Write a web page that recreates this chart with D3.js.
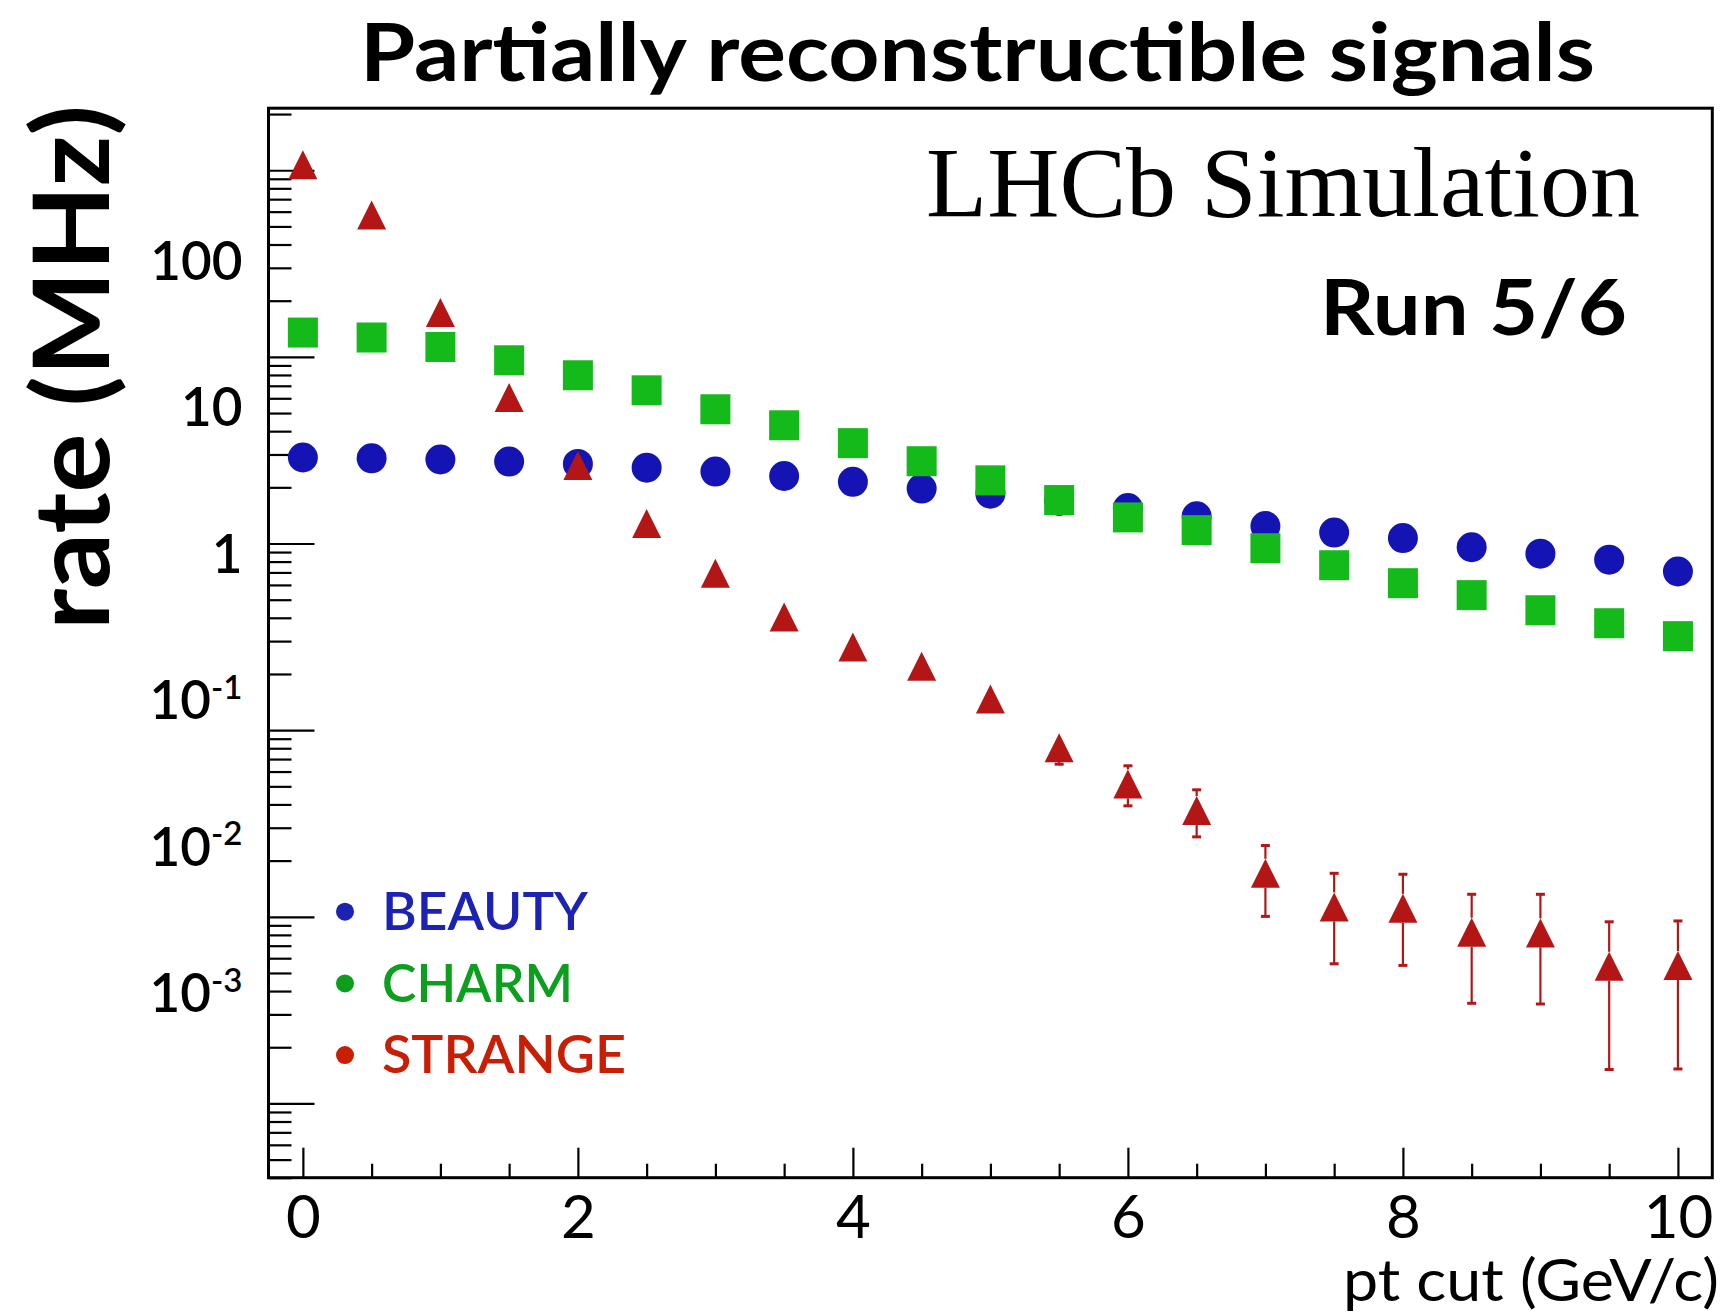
<!DOCTYPE html>
<html>
<head>
<meta charset="utf-8">
<script src="https://cdn.jsdelivr.net/npm/d3@7"></script>
<style>
  html, body { margin: 0; padding: 0; background: #ffffff; }
  svg { display: block; }
</style>
</head>
<body>
<svg id="chart" width="1732" height="1312"></svg>
<script>
// ---- data -------------------------------------------------------------
// pt cut in GeV/c
const ptCut = [0, 0.5, 1, 1.5, 2, 2.5, 3, 3.5, 4, 4.5, 5, 5.5, 6, 6.5, 7, 7.5, 8, 8.5, 9, 9.5, 10];

// rates in MHz
const beautyRate = [2.89, 2.86, 2.82, 2.75, 2.67, 2.55, 2.43, 2.30, 2.14, 1.97, 1.85,
                    1.69, 1.55, 1.40, 1.24, 1.145, 1.07, 0.955, 0.882, 0.819, 0.708];
const charmRate  = [13.5, 12.7, 11.3, 9.59, 7.97, 6.62, 5.24, 4.30, 3.45, 2.76, 2.18,
                    1.71, 1.38, 1.18, 0.944, 0.765, 0.613, 0.529, 0.439, 0.374, 0.319];
const strangeRate = [107, 57.5, 17.3, 6.06, 2.62, 1.28, 0.693, 0.404, 0.279, 0.220, 0.147,
                     0.0806, 0.0515, 0.0371, 0.0171, 0.0113, 0.0111, 0.00826, 0.0082, 0.00543, 0.00548];
// error band on the strange rate (null where the bar hides inside the marker)
const strangeLow  = [null, null, null, null, null, null, null, null, null, null, null,
                     0.0657, 0.0393, 0.0268, 0.01005, 0.0056, 0.00549, 0.00344, 0.00341, 0.00152, 0.00153];
const strangeHigh = [null, null, null, null, null, null, null, null, null, null, null,
                     0.0955, 0.0644, 0.0479, 0.0241, 0.0171, 0.0169, 0.0132, 0.0132, 0.0094, 0.0095];

const legendNames = ["BEAUTY", "CHARM", "STRANGE"];
const rateTickValues = [100, 10, 1, 0.1, 0.01, 0.001];
const ptTickLabels = ["0", "2", "4", "6", "8", "10"];

// ---- layout -----------------------------------------------------------
const frame = { left: 268.5, right: 1712.3, top: 108.2, bottom: 1177.7 };
const markerColor = { beauty: "#1414b4", charm: "#14b91a", strange: "#b41616" };
const legendColor = ["#1c22b2", "#0c9f1e", "#c81e04"];
const sans = "Lato, 'Open Sans', 'DejaVu Sans', sans-serif";

const svg = d3.select("#chart");

const x = d3.scaleLinear().domain([-0.25, 10.25]).range([frame.left, frame.right]);
const y = d3.scaleLog().domain([4e-4, 215]).range([frame.bottom, frame.top]);
// the decade labels sit on their own, more tightly spaced, log scale
const yLabel = d3.scaleLog().domain([1e-3, 100]).range([994.6, 262.5]);

// ---- axes -------------------------------------------------------------
const xTicks = x.ticks(21);
const xMajor = xTicks.filter(t => t % 2 === 0);
const xMinor = xTicks.filter(t => t % 2 !== 0);

const gx = svg.append("g").attr("transform", `translate(0,${frame.bottom})`);
gx.append("g")
  .call(d3.axisBottom(x).tickValues(xMinor).tickSizeInner(-14).tickSizeOuter(0).tickFormat(""))
  .call(g => g.select(".domain").remove());
gx.append("g")
  .call(d3.axisBottom(x).tickValues(xMajor).tickSizeInner(-30).tickSizeOuter(0).tickPadding(18)
        .tickFormat((d, i) => ptTickLabels[i]))
  .call(g => g.select(".domain").remove())
  .call(g => g.selectAll("text").attr("font-size", 60).attr("font-family", sans)
        .attr("font-weight", 400).attr("fill", "#000"));
gx.selectAll(".tick line").attr("stroke", "#000").attr("stroke-width", 2.2);

const yTicks = y.ticks();
const isDecade = v => Math.abs(Math.log10(v) - Math.round(Math.log10(v))) < 1e-9;
const yMajor = yTicks.filter(isDecade);
const yMinor = yTicks.filter(v => !isDecade(v));

const gy = svg.append("g").attr("transform", `translate(${frame.left},0)`);
gy.append("g")
  .call(d3.axisLeft(y).tickValues(yMinor).tickSizeInner(-23).tickSizeOuter(0).tickFormat(""))
  .call(g => g.select(".domain").remove());
gy.append("g")
  .call(d3.axisLeft(y).tickValues(yMajor).tickSizeInner(-46).tickSizeOuter(0).tickFormat(""))
  .call(g => g.select(".domain").remove());
gy.selectAll(".tick line").attr("stroke", "#000").attr("stroke-width", 2.2);

// decade labels, negative powers written as 10 with a superscript exponent
svg.append("g")
  .attr("transform", `translate(${frame.left},0)`)
  .call(d3.axisLeft(yLabel).tickValues(rateTickValues).tickSize(0).tickPadding(26).tickFormat(""))
  .call(g => g.select(".domain").remove())
  .call(g => g.selectAll(".tick text").each(function (d) {
    const t = d3.select(this)
      .attr("font-size", 53).attr("font-family", sans).attr("font-weight", 600)
      .attr("fill", "#000");
    const p = Math.round(Math.log10(d));
    if (p >= 0) {
      t.text(String(d));
    } else {
      t.append("tspan").text("10");
      t.append("tspan").attr("font-size", 33).attr("dy", "-0.62em").text(String(p));
    }
  }));

// ---- frame ------------------------------------------------------------
svg.append("rect")
  .attr("x", frame.left).attr("y", frame.top)
  .attr("width", frame.right - frame.left).attr("height", frame.bottom - frame.top)
  .attr("fill", "none").attr("stroke", "#000").attr("stroke-width", 3);

// ---- markers ----------------------------------------------------------
const plot = svg.append("g");
const half = 15;

plot.append("g").selectAll("circle")
  .data(ptCut.map((p, i) => ({ p, v: beautyRate[i] })))
  .join("circle")
  .attr("cx", d => x(d.p)).attr("cy", d => y(d.v)).attr("r", half)
  .attr("fill", markerColor.beauty);

plot.append("g").selectAll("rect")
  .data(ptCut.map((p, i) => ({ p, v: charmRate[i] })))
  .join("rect")
  .attr("x", d => x(d.p) - half).attr("y", d => y(d.v) - half)
  .attr("width", 2 * half).attr("height", 2 * half)
  .attr("fill", markerColor.charm);

// strange: error bars drawn only where they reach past the marker edge
const strangeData = ptCut.map((p, i) => ({
  p, v: strangeRate[i], lo: strangeLow[i], hi: strangeHigh[i]
}));
const tri = 14.5;
const errG = plot.append("g").attr("stroke", markerColor.strange);
strangeData.filter(d => d.lo !== null).forEach(d => {
  const cx = x(d.p), cy = y(d.v), yHi = y(d.hi), yLo = y(d.lo);
  if (yHi < cy - tri) {
    errG.append("line").attr("x1", cx).attr("x2", cx).attr("y1", yHi).attr("y2", cy - tri)
      .attr("stroke-width", 2.2);
    errG.append("line").attr("x1", cx - 4.5).attr("x2", cx + 4.5).attr("y1", yHi).attr("y2", yHi)
      .attr("stroke-width", 3);
  }
  if (yLo > cy + tri) {
    errG.append("line").attr("x1", cx).attr("x2", cx).attr("y1", cy + tri).attr("y2", yLo)
      .attr("stroke-width", 2.2);
    errG.append("line").attr("x1", cx - 4.5).attr("x2", cx + 4.5).attr("y1", yLo).attr("y2", yLo)
      .attr("stroke-width", 3);
  }
});

plot.append("g").selectAll("path")
  .data(strangeData)
  .join("path")
  .attr("d", d => {
    const cx = x(d.p), cy = y(d.v);
    return `M${cx - tri},${cy + tri}L${cx + tri},${cy + tri}L${cx},${cy - tri}Z`;
  })
  .attr("fill", markerColor.strange);

// ---- legend -----------------------------------------------------------
const legend = svg.append("g");
const legendWidths = [206, 191, 244];
legendNames.forEach((name, i) => {
  const row = legend.append("g").attr("transform", `translate(0,${930 + i * 71.7})`);
  row.append("circle").attr("cx", 345).attr("cy", -18.3).attr("r", 9).attr("fill", legendColor[i]);
  row.append("text").attr("x", 382).attr("y", 0)
    .attr("font-family", sans).attr("font-size", 52).attr("font-weight", 600)
    .attr("fill", legendColor[i])
    .attr("textLength", legendWidths[i]).attr("lengthAdjust", "spacingAndGlyphs")
    .text(name);
});

// ---- titles and labels ------------------------------------------------
svg.append("text")
  .attr("x", 360).attr("y", 80.5)
  .attr("font-family", sans).attr("font-size", 81).attr("font-weight", 700)
  .attr("textLength", 1235).attr("lengthAdjust", "spacingAndGlyphs")
  .text("Partially reconstructible signals");

svg.append("text")
  .attr("x", 1640).attr("y", 216)
  .attr("text-anchor", "end")
  .attr("font-family", "'Liberation Serif', 'Times New Roman', serif").attr("font-size", 100)
  .text("LHCb Simulation");

svg.append("text")
  .attr("x", 1627).attr("y", 335)
  .attr("text-anchor", "end")
  .attr("font-family", sans).attr("font-size", 76).attr("font-weight", 700)
  .attr("textLength", 307).attr("lengthAdjust", "spacingAndGlyphs")
  .text("Run 5/6");

svg.append("text")
  .attr("transform", "translate(109,367.5) rotate(-90)")
  .attr("text-anchor", "middle")
  .attr("font-family", sans).attr("font-size", 106).attr("font-weight", 700)
  .attr("textLength", 525).attr("lengthAdjust", "spacingAndGlyphs")
  .text("rate (MHz)");

svg.append("text")
  .attr("x", 1719).attr("y", 1301)
  .attr("text-anchor", "end")
  .attr("font-family", sans).attr("font-size", 58).attr("font-weight", 400)
  .attr("textLength", 376).attr("lengthAdjust", "spacingAndGlyphs")
  .text("pt cut (GeV/c)");
</script>
</body>
</html>
